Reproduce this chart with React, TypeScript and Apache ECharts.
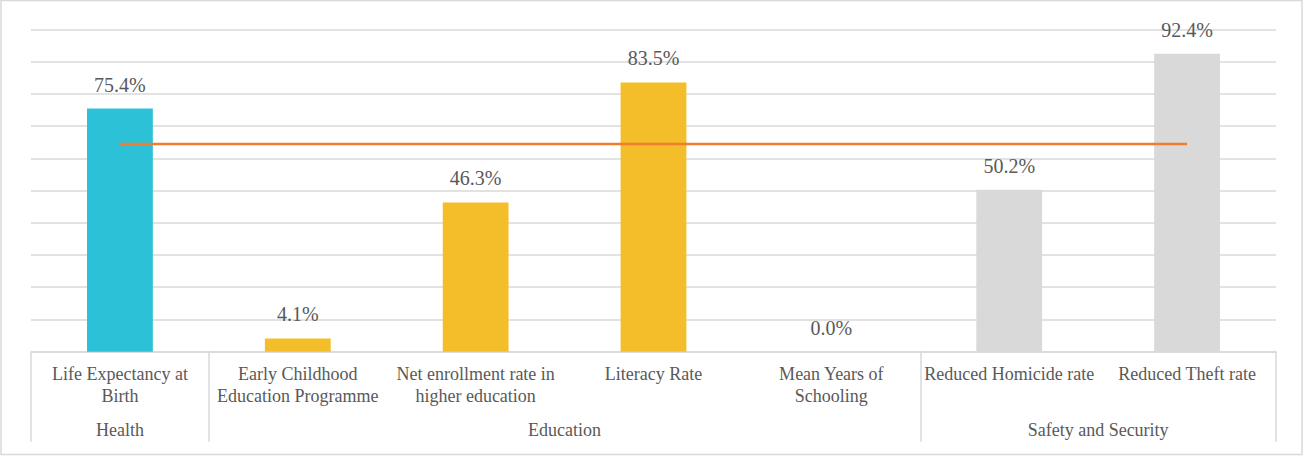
import React, { useEffect, useRef } from "react";
import * as echarts from "echarts";

const categories = [
  "Life Expectancy at\nBirth",
  "Early Childhood\nEducation Programme",
  "Net enrollment rate in\nhigher education",
  "Literacy Rate",
  "Mean Years of\nSchooling",
  "Reduced Homicide rate",
  "Reduced Theft rate",
];
const categoryGroup = ["Health", "Education", "Education", "Education", "Education", "Safety and Security", "Safety and Security"];
const values = [75.4, 4.1, 46.3, 83.5, 0.0, 50.2, 92.4];
const averageLine = [64.4, 64.4, 64.4, 64.4, 64.4, 64.4, 64.4];
const groups = ["Health", "Education", "Safety and Security"];
const groupBoundaries = [0, 1, 5, 7];
const groupCenters = [0.5, 3, 6];

const groupColors: Record<string, string> = {
  Health: "#2CC1D7",
  Education: "#F4BE2A",
  "Safety and Security": "#D9D9D9",
};

const FONT = "Liberation Serif";
const TEXT = "#595959";
const GRID = "#D9D9D9";

export default function App() {
  const ref = useRef<HTMLDivElement>(null);
  useEffect(() => {
    if (!ref.current) return;
    const chart = echarts.init(ref.current, undefined, { renderer: "svg" });
    chart.setOption({
      animation: false,
      backgroundColor: "#ffffff",
      textStyle: { fontFamily: FONT },
      graphic: [
        {
          type: "rect",
          shape: { x: 1, y: 0.5, width: 1301, height: 454 },
          style: { fill: "none", stroke: "#D9D9D9", lineWidth: 1.5 },
          silent: true,
        },
      ],
      grid: { left: 31, right: 29, top: 29.3, bottom: 104.3 },
      xAxis: [
        {
          type: "category",
          data: categories,
          axisLine: { show: true, lineStyle: { color: GRID, width: 1.5 } },
          axisTick: { show: false },
          axisLabel: {
            interval: 0,
            color: TEXT,
            fontFamily: FONT,
            fontSize: 18,
            lineHeight: 22,
            margin: 11,
            align: "center",
          },
        },
        {
          type: "value",
          min: 0,
          max: 7,
          position: "bottom",
          axisLine: { show: false },
          splitLine: { show: false },
          axisTick: {
            show: true,
            customValues: groupBoundaries,
            length: 90,
            lineStyle: { color: GRID, width: 1.5 },
          },
          axisLabel: {
            customValues: groupCenters,
            formatter: (v: number) => groups[groupCenters.indexOf(v)] ?? "",
            color: TEXT,
            fontFamily: FONT,
            fontSize: 18,
            lineHeight: 22,
            margin: 67,
          },
        },
      ],
      yAxis: {
        type: "value",
        min: 0,
        max: 100,
        interval: 10,
        axisLabel: { show: false },
        axisLine: { show: false },
        axisTick: { show: false },
        splitLine: { lineStyle: { color: GRID, width: 1.5 } },
      },
      series: [
        {
          type: "bar",
          xAxisIndex: 0,
          data: values,
          barWidth: "37%",
          itemStyle: {
            color: (p: any) => groupColors[categoryGroup[p.dataIndex]],
          },
          label: {
            show: true,
            position: "top",
            distance: 14,
            color: TEXT,
            fontFamily: FONT,
            fontSize: 20,
            formatter: (p: any) => `${Number(p.value).toFixed(1)}%`,
          },
        },
        {
          type: "line",
          xAxisIndex: 0,
          data: averageLine,
          symbol: "none",
          lineStyle: { color: "#ED7D31", width: 2.5 },
          z: 5,
        },
      ],
    });
    return () => chart.dispose();
  }, []);
  return (
    <div
      ref={ref}
      style={{ position: "absolute", left: 0, top: 0, width: 1305, height: 456 }}
    />
  );
}
